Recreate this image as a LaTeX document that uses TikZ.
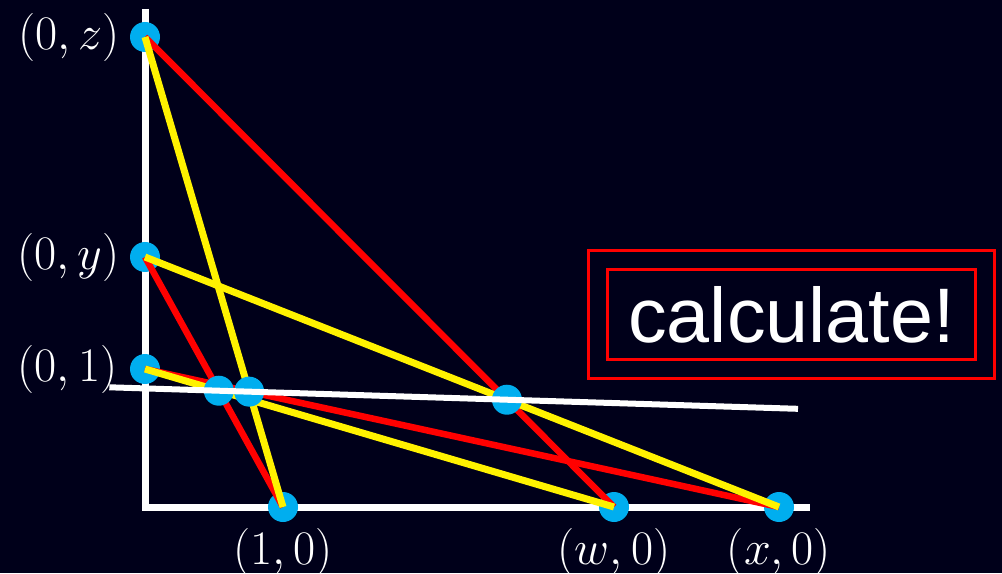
\documentclass[tikz,border=0pt]{standalone}
\usepackage{fix-cm}
\usepackage{xcolor}
\usepackage{fontspec}
\setsansfont{Liberation Sans}
\usepackage{tikz}
\usetikzlibrary{calc,positioning}

\definecolor{bgnavy}{RGB}{0,0,26}
\definecolor{dotblue}{RGB}{0,174,239}

\begin{document}
\begin{tikzpicture}[
    axis/.style={line width=0.14cm, white},
    redline/.style={line width=0.13cm, red},
    yellowline/.style={line width=0.14cm, yellow},
    dot/.style={fill=dotblue},
    lbl/.style={text=white, inner sep=0, font=\fontsize{27.4}{32}\selectfont},
]

    % Achtergrond
    \fill[bgnavy] (-2.9,-1.32) rectangle (17.14,10.14);
    \useasboundingbox (-2.9,-1.32) rectangle (17.14,10.14);

    % Punten
    \coordinate (O) at (0,0);
    \coordinate (Z) at (0,9.4);
    \coordinate (Y) at (0,5.0);
    \coordinate (E) at (0,2.76);
    \coordinate (U) at (2.76,0);
    \coordinate (W) at (9.38,0);
    \coordinate (X) at (12.68,0);
    \coordinate (ytop) at (0,9.96);
    \coordinate (xend) at (13.3,0);

    % Assen
    \draw[axis] (ytop) -- (O) -- (xend);

    \foreach \p in {Z,Y,E,U,W,X} {
        \fill[dot] (\p) circle (0.3);
    }

    % Rood
    \draw[redline] (Z) -- (W);
    \draw[redline] (Y) -- (U);
    \draw[redline] (E) -- (X);

    % Geel
    \draw[yellowline] (Z) -- (U);
    \draw[yellowline] (Y) -- (X);
    \draw[yellowline] (E) -- (W);

    % Snijpunten
    \coordinate (P) at (intersection of Y--U and E--W);
    \coordinate (Q) at (intersection of Z--U and E--X);
    \coordinate (R) at (intersection of Z--W and Y--X);
    \foreach \p in {P,Q,R} {
        \fill[dot] (\p) circle (0.3);
    }

    % Witte lijn
    \coordinate (wl) at ($(P)!-0.38!(R)$);
    \coordinate (wr) at ($(P)!2.01!(R)$);
    \draw[line width=0.12cm, white] (wl) -- (wr);

    % Labels
    \node[lbl, left=0.5cm of Z] (zlbl) {$(0,z)$};
    \node[lbl, left=0.5cm of Y] (ylbl) {$(0,y)$};
    \node[lbl, left=0.55cm of E] (elbl) {$(0,1)$};
    \node[lbl, below=0.42cm of U] (ulbl) {$(1,0)$};
    \node[lbl, below=0.42cm of W] (wlbl) {$(w,0)$};
    \node[lbl, below=0.42cm of X] (xlbl) {$(x,0)$};

    % Kader
    \node[draw=red, line width=0.06cm, double=bgnavy, double distance=0.32cm,
          minimum width=7.74cm, minimum height=2.17cm, text=white,
          font=\sffamily\fontsize{44}{50}\selectfont] (calc) at (12.93,3.845) {calculate!};

\end{tikzpicture}
\end{document}
